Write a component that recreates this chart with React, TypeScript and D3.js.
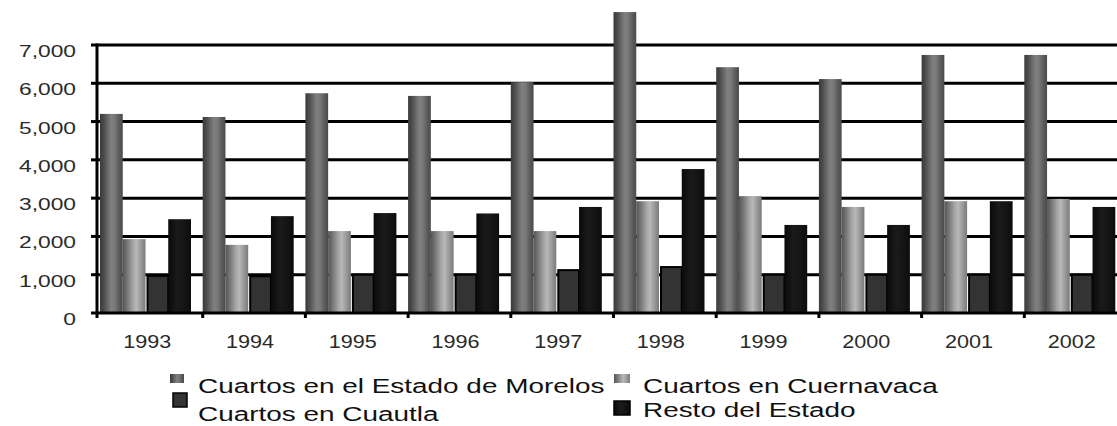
import * as d3 from 'd3'

const years = ['1993', '1994', '1995', '1996', '1997', '1998', '1999', '2000', '2001', '2002']
const seriesNames = [
  'Cuartos en el Estado de Morelos',
  'Cuartos en Cuernavaca',
  'Cuartos en Cuautla',
  'Resto del Estado'
]
const morelos = [5200, 5120, 5740, 5670, 6030, 7860, 6420, 6110, 6740, 6740]
const cuernavaca = [1930, 1780, 2140, 2140, 2140, 2920, 3050, 2770, 2920, 2980]
const cuautla = [970, 960, 1000, 1000, 1120, 1200, 1000, 1000, 1000, 1000]
const resto = [2450, 2530, 2610, 2600, 2770, 3760, 2300, 2300, 2920, 2770]
const yTicks = [0, 1000, 2000, 3000, 4000, 5000, 6000, 7000]

const seriesValues = [morelos, cuernavaca, cuautla, resto]
const fills = ['url(#gMorelos)', 'url(#gCuerna)', '#333333', 'url(#gResto)']

const W = 1117
const H = 426
const left = 98
const band = 102.7

export default function App() {
  const y = d3.scaleLinear().domain([0, 7000]).range([313, 45])
  const x0 = d3.scaleBand<string>().domain(years).range([left, left + band * years.length]).padding(0)
  const x1 = d3.scaleBand<string>().domain(seriesNames).range([2, 93]).padding(0)
  const fmt = d3.format(',')

  // legend slots: marker box and text origin
  const legend = [
    { mx: 170, my: 374, mw: 14, mh: 9, tx: 198, ty: 393 },
    { mx: 614, my: 374, mw: 16, mh: 9, tx: 643, ty: 393 },
    { mx: 173, my: 393, mw: 14, mh: 14, tx: 198, ty: 421 },
    { mx: 614, my: 401, mw: 16, mh: 14, tx: 643, ty: 417 }
  ]

  return (
    <div style={{ position: 'absolute', left: 0, top: 0 }}>
      <svg width={W} height={H} style={{ display: 'block', background: '#fff' }}>
        <defs>
          <linearGradient id="gMorelos" x1="0" x2="1" y1="0" y2="0">
            <stop offset="0" stopColor="#3a3a3a" />
            <stop offset="0.15" stopColor="#4a4a4a" />
            <stop offset="0.35" stopColor="#6a6a6a" />
            <stop offset="0.5" stopColor="#808080" />
            <stop offset="0.65" stopColor="#787878" />
            <stop offset="0.85" stopColor="#5a5a5a" />
            <stop offset="1" stopColor="#4a4a4a" />
          </linearGradient>
          <linearGradient id="gCuerna" x1="0" x2="1" y1="0" y2="0">
            <stop offset="0" stopColor="#555" />
            <stop offset="0.2" stopColor="#777" />
            <stop offset="0.45" stopColor="#a5a5a5" />
            <stop offset="0.6" stopColor="#b8b8b8" />
            <stop offset="0.8" stopColor="#999" />
            <stop offset="1" stopColor="#7a7a7a" />
          </linearGradient>
          <linearGradient id="gResto" x1="0" x2="1" y1="0" y2="0">
            <stop offset="0" stopColor="#0a0a0a" />
            <stop offset="0.4" stopColor="#1a1a1a" />
            <stop offset="0.7" stopColor="#151515" />
            <stop offset="1" stopColor="#0c0c0c" />
          </linearGradient>
        </defs>

        {/* gridlines */}
        {yTicks.filter((t) => t > 0).map((t) => (
          <line key={t} x1={left} x2={W} y1={y(t)} y2={y(t)} stroke="#000" strokeWidth={3} />
        ))}

        {/* bars */}
        {years.map((yr, i) => (
          <g key={yr} transform={`translate(${x0(yr)},0)`}>
            {seriesNames.map((s, j) => {
              const v = seriesValues[j][i]
              const bx = x1(s)!
              const bw = x1.bandwidth()
              if (j === 2) {
                return (
                  <rect key={s} x={bx + 2} y={y(v)} width={bw - 2} height={y(0) - y(v)}
                    fill={fills[j]} stroke="#000" strokeWidth={2} />
                )
              }
              return <rect key={s} x={bx} y={y(v)} width={bw} height={y(0) - y(v)} fill={fills[j]} />
            })}
          </g>
        ))}

        {/* axes */}
        <line x1={left - 1} x2={W} y1={y(0)} y2={y(0)} stroke="#000" strokeWidth={3} />
        <line x1={left - 1} x2={left - 1} y1={y(7000) - 1.5} y2={y(0) + 5} stroke="#000" strokeWidth={3} />
        {yTicks.map((t) => (
          <line key={t} x1={91} x2={left} y1={y(t)} y2={y(t)} stroke="#000" strokeWidth={3} />
        ))}
        {years.slice(1).map((yr) => (
          <line key={yr} x1={x0(yr)! + 2} x2={x0(yr)! + 2} y1={y(0)} y2={y(0) + 5} stroke="#000" strokeWidth={3} />
        ))}

        {/* y labels */}
        {yTicks.map((t) => (
          <text key={t} transform={`translate(76,${y(t) + 12}) scale(1.38,1)`} textAnchor="end"
            fontFamily="'Liberation Sans', Arial, sans-serif" fontSize={16.5} fill="#2a2a2a">
            {fmt(t)}
          </text>
        ))}

        {/* x labels */}
        {years.map((yr) => (
          <text key={yr} transform={`translate(${x0(yr)! + band / 2 - 2},348) scale(1.2,1)`} textAnchor="middle"
            fontFamily="'Liberation Sans', Arial, sans-serif" fontSize={18} fill="#2a2a2a">
            {yr}
          </text>
        ))}

        {/* legend */}
        {seriesNames.map((s, j) => {
          const l = legend[j]
          return (
            <g key={s}>
              <rect x={l.mx} y={l.my} width={l.mw} height={l.mh} fill={fills[j]}
                stroke={j >= 2 ? '#000' : 'none'} strokeWidth={j >= 2 ? 1.5 : 0} />
              <text transform={`translate(${l.tx},${l.ty}) scale(1.33,1)`}
                fontFamily="'Liberation Sans', Arial, sans-serif" fontSize={21} fill="#111">
                {s}
              </text>
            </g>
          )
        })}
      </svg>
    </div>
  )
}
